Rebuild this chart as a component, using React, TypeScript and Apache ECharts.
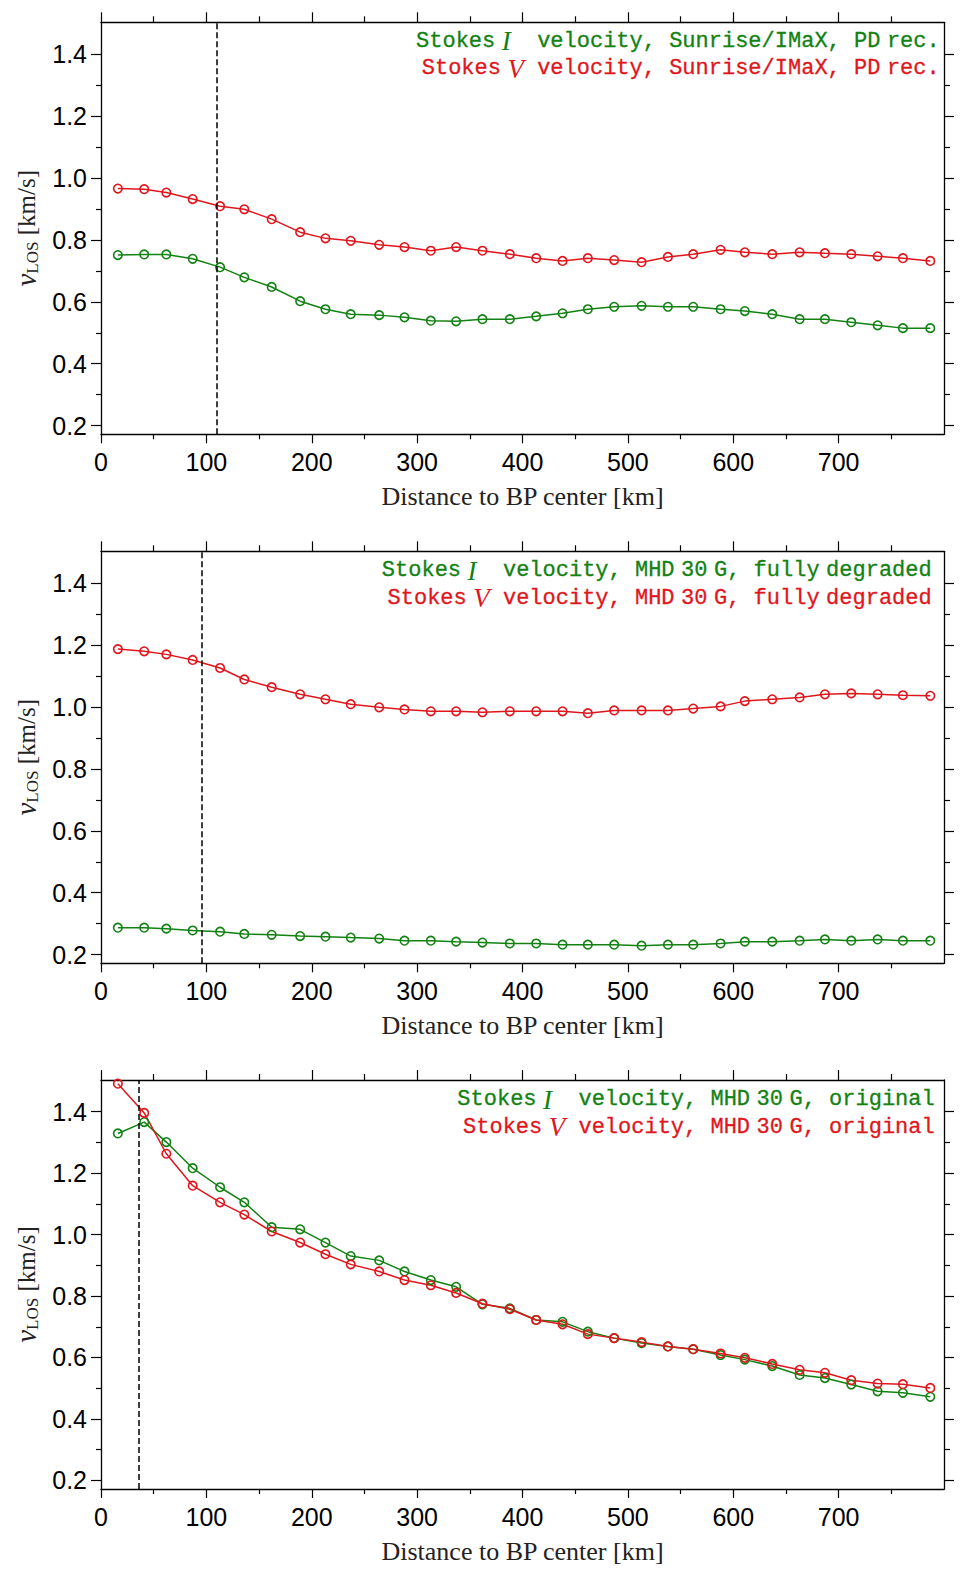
import React, { useEffect, useRef } from 'react';
import * as echarts from 'echarts';

// ---------- data ----------
const distances = [16, 41, 62, 87, 113, 136, 162, 189, 213, 237, 264, 288, 313, 337, 362, 388, 413, 438, 462, 487, 513, 538, 562, 588, 611, 637, 663, 687, 712, 737, 761, 787];

const panel1I = [0.751, 0.753, 0.753, 0.739, 0.712, 0.679, 0.648, 0.602, 0.576, 0.560, 0.557, 0.550, 0.539, 0.537, 0.544, 0.544, 0.553, 0.563, 0.576, 0.584, 0.587, 0.584, 0.584, 0.576, 0.570, 0.560, 0.544, 0.544, 0.534, 0.524, 0.515, 0.515];
const panel1V = [0.966, 0.964, 0.953, 0.932, 0.909, 0.899, 0.867, 0.825, 0.805, 0.797, 0.784, 0.777, 0.765, 0.777, 0.765, 0.754, 0.741, 0.732, 0.741, 0.735, 0.728, 0.745, 0.754, 0.768, 0.760, 0.754, 0.760, 0.757, 0.754, 0.747, 0.741, 0.732];

const panel2I = [0.287, 0.287, 0.284, 0.278, 0.274, 0.267, 0.264, 0.260, 0.258, 0.255, 0.252, 0.245, 0.245, 0.242, 0.239, 0.236, 0.236, 0.232, 0.232, 0.232, 0.229, 0.232, 0.232, 0.236, 0.242, 0.242, 0.245, 0.249, 0.245, 0.249, 0.245, 0.245];
const panel2V = [1.187, 1.180, 1.170, 1.152, 1.126, 1.089, 1.064, 1.041, 1.025, 1.009, 0.999, 0.992, 0.986, 0.986, 0.983, 0.986, 0.986, 0.986, 0.980, 0.989, 0.989, 0.989, 0.995, 1.002, 1.019, 1.025, 1.031, 1.041, 1.044, 1.041, 1.038, 1.036];

const panel3I = [1.329, 1.366, 1.301, 1.216, 1.154, 1.105, 1.024, 1.017, 0.974, 0.930, 0.916, 0.880, 0.852, 0.830, 0.773, 0.760, 0.722, 0.716, 0.684, 0.663, 0.647, 0.636, 0.627, 0.608, 0.593, 0.572, 0.543, 0.533, 0.512, 0.490, 0.485, 0.472];
const panel3V = [1.491, 1.396, 1.263, 1.159, 1.105, 1.065, 1.010, 0.974, 0.936, 0.903, 0.880, 0.852, 0.835, 0.810, 0.775, 0.757, 0.722, 0.708, 0.676, 0.663, 0.650, 0.636, 0.627, 0.613, 0.599, 0.579, 0.560, 0.550, 0.526, 0.515, 0.513, 0.501];

const bpLines = [110, 96, 35.5];
const datasetLabels = ['Sunrise/IMaX, PD rec.', 'MHD 30 G, fully degraded', 'MHD 30 G, original'];

const xMajorTicks = [0, 100, 200, 300, 400, 500, 600, 700];
const xMinorTicks = [50, 150, 250, 350, 450, 550, 650, 750];
const yMajorTicks = [0.2, 0.4, 0.6, 0.8, 1.0, 1.2, 1.4];
const yMinorTicks = [0.3, 0.5, 0.7, 0.9, 1.1, 1.3];

const X_MIN = 0;
const X_MAX = 800;
const Y_MIN = 0.172;
const Y_MAX = 1.503;

const xTitle = 'Distance to BP center [km]';

// ---------- style / layout ----------
const GREEN = '#128212';
const RED = '#e0161c';
const AXIS = '#000';

const layout = [
  { top: 22.3, height: 412, legendRight: 940, line1: 41, line2: 68.5 },
  { top: 551.3, height: 412, legendRight: 932, line1: 570.5, line2: 598 },
  { top: 1080, height: 409, legendRight: 935, line1: 1099.5, line2: 1127 },
];
const seriesI = [panel1I, panel2I, panel3I];
const seriesV = [panel1V, panel2V, panel3V];

const GRID_LEFT = 101;
const GRID_WIDTH = 843;

// spaces not following a comma are narrow in the reference typesetting
const richLabel = (s: string) => s.replace(/([^,]) /g, '$1}{t| }{m|');

function buildOption() {
  const grid: any[] = [];
  const xAxis: any[] = [];
  const yAxis: any[] = [];
  const series: any[] = [];
  const title: any[] = [];

  const lineStyle = { color: AXIS, width: 1.3 };
  const tickStyle = { color: AXIS, width: 1.2 };

  layout.forEach((L, g) => {
    grid.push({ left: GRID_LEFT, top: L.top, width: GRID_WIDTH, height: L.height, containLabel: false });

    const xBase = { gridIndex: g, type: 'value', min: X_MIN, max: X_MAX, splitLine: { show: false } };
    xAxis.push({
      ...xBase,
      position: 'bottom',
      axisLine: { show: true, onZero: false, lineStyle },
      axisTick: { show: true, inside: false, length: 9, customValues: xMajorTicks, lineStyle: tickStyle },
      axisLabel: { show: true, customValues: xMajorTicks, margin: 15, fontSize: 25, fontFamily: 'Liberation Sans', color: '#000' },
      name: xTitle,
      nameLocation: 'middle',
      nameGap: 49,
      nameTextStyle: { fontFamily: 'Liberation Serif', fontSize: 26, color: '#222' },
    });
    xAxis.push({
      ...xBase,
      position: 'bottom',
      axisLine: { show: false, onZero: false },
      axisTick: { show: true, inside: false, length: 5, customValues: xMinorTicks, lineStyle: tickStyle },
      axisLabel: { show: false },
    });
    xAxis.push({
      ...xBase,
      position: 'top',
      axisLine: { show: true, onZero: false, lineStyle },
      axisTick: { show: true, inside: false, length: 10, customValues: xMajorTicks, lineStyle: tickStyle },
      axisLabel: { show: false },
    });
    xAxis.push({
      ...xBase,
      position: 'top',
      axisLine: { show: false, onZero: false },
      axisTick: { show: true, inside: false, length: 6, customValues: xMinorTicks, lineStyle: tickStyle },
      axisLabel: { show: false },
    });

    const yBase = { gridIndex: g, type: 'value', min: Y_MIN, max: Y_MAX, splitLine: { show: false } };
    yAxis.push({
      ...yBase,
      position: 'left',
      axisLine: { show: true, onZero: false, lineStyle },
      axisTick: { show: true, inside: false, length: 10, customValues: yMajorTicks, lineStyle: tickStyle },
      axisLabel: {
        show: true,
        customValues: yMajorTicks,
        margin: 14,
        fontSize: 25,
        fontFamily: 'Liberation Sans',
        color: '#000',
        formatter: (v: number) => v.toFixed(1),
      },
      name: '{v|v}{s|LOS}{u| [km/s]}',
      nameLocation: 'middle',
      nameRotate: 90,
      nameGap: 57,
      nameTextStyle: {
        rich: {
          v: { fontFamily: 'Liberation Serif', fontStyle: 'italic', fontSize: 29, color: '#222', lineHeight: 30 },
          s: { fontFamily: 'Liberation Serif', fontSize: 17, color: '#222', lineHeight: 17, verticalAlign: 'bottom' },
          u: { fontFamily: 'Liberation Serif', fontSize: 25, color: '#222', lineHeight: 30 },
        },
      },
    });
    yAxis.push({
      ...yBase,
      position: 'left',
      axisLine: { show: false, onZero: false },
      axisTick: { show: true, inside: false, length: 5, customValues: yMinorTicks, lineStyle: tickStyle },
      axisLabel: { show: false },
    });
    yAxis.push({
      ...yBase,
      position: 'right',
      axisLine: { show: true, onZero: false, lineStyle },
      axisTick: { show: true, inside: false, length: 10, customValues: yMajorTicks, lineStyle: tickStyle },
      axisLabel: { show: false },
    });
    yAxis.push({
      ...yBase,
      position: 'right',
      axisLine: { show: false, onZero: false },
      axisTick: { show: true, inside: false, length: 6, customValues: yMinorTicks, lineStyle: tickStyle },
      axisLabel: { show: false },
    });

    const mk = (vals: number[], color: string, withMark: boolean) => ({
      type: 'line',
      xAxisIndex: 4 * g,
      yAxisIndex: 4 * g,
      data: distances.map((d, i) => [d, vals[i]]),
      symbol: 'circle',
      symbolSize: 8.5,
      itemStyle: { color: 'rgba(0,0,0,0)', borderColor: color, borderWidth: 1.6 },
      lineStyle: { color, width: 1.5 },
      emphasis: { disabled: true },
      silent: true,
      markLine: withMark
        ? {
            silent: true,
            symbol: ['none', 'none'],
            label: { show: false },
            lineStyle: { color: '#000', type: [6, 3], width: 1.5 },
            data: [{ xAxis: bpLines[g] }],
          }
        : undefined,
    });
    series.push(mk(seriesI[g], GREEN, true));
    series.push(mk(seriesV[g], RED, false));

    const rich = (color: string) => ({
      m: { fontFamily: 'Liberation Mono', fontSize: 22, fontWeight: 'normal', color, lineHeight: 27, textBorderColor: color, textBorderWidth: 0.3 },
      t: { fontFamily: 'Liberation Serif', fontSize: 26, fontWeight: 'normal', color, lineHeight: 27 },
      i: { fontFamily: 'Liberation Serif', fontStyle: 'italic', fontWeight: 'normal', fontSize: 27, color, lineHeight: 27 },
    });
    const lbl = richLabel(datasetLabels[g]);
    title.push({
      right: 967 - L.legendRight,
      top: L.line1 - 13.5,
      padding: 0,
      text: `{m|Stokes}{t| }{i|I}{m|  velocity, ${lbl}}`,
      textStyle: { fontWeight: 'normal', rich: rich(GREEN) },
    });
    title.push({
      right: 967 - L.legendRight,
      top: L.line2 - 13.5,
      padding: 0,
      text: `{m|Stokes}{t| }{i|V}{m| velocity, ${lbl}}`,
      textStyle: { fontWeight: 'normal', rich: rich(RED) },
    });
  });

  return {
    animation: false,
    backgroundColor: '#fff',
    textStyle: { fontFamily: 'Liberation Sans' },
    title,
    grid,
    xAxis,
    yAxis,
    series,
  };
}

export default function App() {
  const ref = useRef<HTMLDivElement>(null);
  useEffect(() => {
    if (!ref.current) return;
    const chart = echarts.init(ref.current, undefined, { renderer: 'svg' });
    chart.setOption(buildOption() as any);
    return () => chart.dispose();
  }, []);
  return (
    <div
      ref={ref}
      style={{ position: 'absolute', left: 0, top: 0, width: 967, height: 1587, background: '#fff' }}
    />
  );
}
